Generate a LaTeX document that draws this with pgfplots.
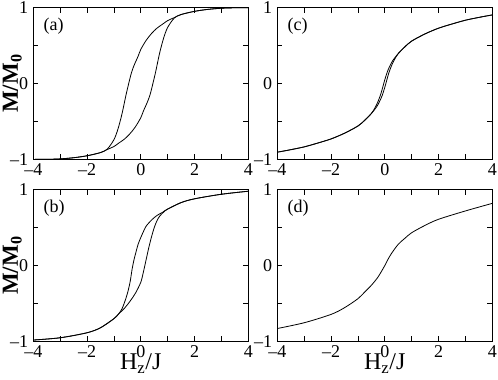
\documentclass[border=0pt]{standalone}
\usepackage{fontspec}
\setmainfont{Liberation Serif}
\usepackage{pgfplots}
\pgfplotsset{compat=1.18}

\pgfplotsset{
 panel/.style={
  scale only axis, width=215pt, height=151.7pt,
  xmin=-4, xmax=4, ymin=-1, ymax=1,
  xtick={-4,-2,0,2,4}, xticklabels={{--4},{--2},0,2,4},
  minor xtick={-3,-1,1,3},
  ytick={-1,0,1}, yticklabels={{--1},0,1},
  minor ytick={-0.5,0.5},
  tick align=inside,
  major tick length=5pt, minor tick length=5pt,
  every tick/.style={black, line width=0.6pt},
  axis line style={line width=0.7pt},
  ticklabel style={font=\fontsize{18}{20}\selectfont},
  xticklabel style={inner sep=0pt, yshift=-4pt},
  yticklabel style={inner sep=0pt, xshift=-5pt},
  every axis plot post/.append style={black, line width=0.8pt, smooth, mark=none},
  ylabel style={at={(axis description cs:-0.0712,0.5)}, anchor=base, inner sep=0pt, font=\bfseries\fontsize{23}{25}\selectfont},
  xlabel style={at={(axis description cs:0.5,-0.1846)}, anchor=base, inner sep=0pt, font=\fontsize{24}{26}\selectfont},
 },
}
\tikzset{plab/.style={anchor=west, inner sep=0pt, font=\fontsize{18}{20}\selectfont}}

\begin{document}
\begin{tikzpicture}
\useasboundingbox (0,0) rectangle (498pt,-380pt);

% (a)
\begin{axis}[panel, at={(33.3pt,-7.7pt)}, anchor=north west, ylabel={M/M\textsubscript{0}}]
\addplot coordinates {(-4,-1.0) (-3.5,-0.999) (-3,-0.993) (-2.5,-0.978) (-2,-0.952) (-1.5,-0.91) (-1.25,-0.865) (-1.0,-0.74) (-0.85,-0.6) (-0.7,-0.4) (-0.55,-0.15) (-0.45,0.0) (-0.35,0.14) (-0.25,0.24) (-0.1,0.36) (0,0.45) (0.2,0.57) (0.4,0.66) (0.6,0.73) (0.8,0.78) (1.0,0.83) (1.25,0.87) (1.5,0.91) (2,0.952) (2.5,0.978) (3,0.993) (3.5,0.999) (4,1.0)};
\addplot coordinates {(-4,-1.0) (-3.5,-0.999) (-3,-0.993) (-2.5,-0.978) (-2,-0.952) (-1.5,-0.91) (-1.25,-0.87) (-1.0,-0.83) (-0.8,-0.78) (-0.6,-0.73) (-0.4,-0.66) (-0.2,-0.57) (0,-0.45) (0.1,-0.36) (0.25,-0.24) (0.35,-0.14) (0.45,0.0) (0.55,0.15) (0.7,0.4) (0.85,0.6) (1.0,0.74) (1.25,0.865) (1.5,0.91) (2,0.952) (2.5,0.978) (3,0.993) (3.5,0.999) (4,1.0)};
\node[plab] at (rel axis cs:0.047,0.88) {(a)};
\end{axis}

% (c)
\begin{axis}[panel, at={(277.3pt,-7.7pt)}, anchor=north west]
\addplot coordinates {(-4,-0.905) (-3.5,-0.872) (-3,-0.835) (-2.5,-0.785) (-2,-0.73) (-1.5,-0.655) (-1,-0.56) (-0.75,-0.485) (-0.5,-0.395) (-0.35,-0.31) (-0.25,-0.235) (-0.15,-0.14) (-0.07,-0.04) (0,0.05) (0.1,0.16) (0.2,0.24) (0.3,0.305) (0.5,0.395) (0.75,0.485) (1,0.56) (1.5,0.655) (2,0.73) (2.5,0.785) (3,0.835) (3.5,0.872) (4,0.905)};
\addplot coordinates {(-4,-0.905) (-3.5,-0.872) (-3,-0.835) (-2.5,-0.785) (-2,-0.73) (-1.5,-0.655) (-1,-0.56) (-0.75,-0.485) (-0.5,-0.395) (-0.3,-0.305) (-0.2,-0.24) (-0.1,-0.16) (0,-0.05) (0.07,0.04) (0.15,0.14) (0.25,0.235) (0.35,0.31) (0.5,0.395) (0.75,0.485) (1,0.56) (1.5,0.655) (2,0.73) (2.5,0.785) (3,0.835) (3.5,0.872) (4,0.905)};
\node[plab] at (rel axis cs:0.047,0.88) {(c)};
\end{axis}

% (b)
\begin{axis}[panel, at={(33.3pt,-189.7pt)}, anchor=north west, ylabel={M/M\textsubscript{0}}, xlabel={H\textsubscript{z}/J}]
\addplot coordinates {(-4,-0.982) (-3,-0.952) (-2,-0.886) (-1.5,-0.82) (-1,-0.70) (-0.83,-0.64) (-0.7,-0.57) (-0.6,-0.48) (-0.5,-0.37) (-0.4,-0.22) (-0.32,-0.04) (-0.25,0.08) (-0.2,0.15) (-0.1,0.28) (0,0.37) (0.1,0.45) (0.2,0.52) (0.4,0.60) (0.6,0.66) (0.8,0.70) (1.0,0.745) (1.5,0.83) (2,0.88) (3,0.94) (4,0.98)};
\addplot coordinates {(-4,-0.982) (-3,-0.952) (-2,-0.886) (-1.5,-0.82) (-1,-0.70) (-0.83,-0.64) (-0.6,-0.56) (-0.4,-0.47) (-0.2,-0.365) (0,-0.22) (0.1,-0.08) (0.2,0.08) (0.3,0.24) (0.4,0.38) (0.5,0.50) (0.6,0.59) (0.7,0.65) (0.85,0.705) (1.0,0.745) (1.5,0.83) (2,0.88) (3,0.94) (4,0.98)};
\node[plab] at (rel axis cs:0.047,0.88) {(b)};
\end{axis}

% (d)
\begin{axis}[panel, at={(277.3pt,-189.7pt)}, anchor=north west, xlabel={H\textsubscript{z}/J}]
\addplot coordinates {(-4,-0.83) (-3,-0.754) (-2,-0.644) (-1.5,-0.556) (-1,-0.437) (-0.75,-0.35) (-0.5,-0.26) (-0.25,-0.15) (0,0.0) (0.1,0.07) (0.25,0.16) (0.5,0.28) (0.75,0.36) (1,0.433) (1.5,0.53) (2,0.61) (3,0.72) (4,0.82)};
\node[plab] at (rel axis cs:0.047,0.88) {(d)};
\end{axis}
\end{tikzpicture}
\end{document}
